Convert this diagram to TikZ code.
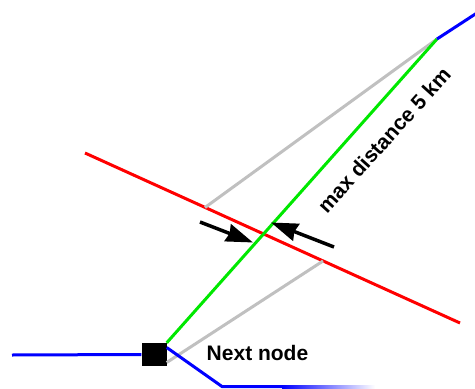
\documentclass[tikz,border=0pt]{standalone}
\usepackage{fontspec}
\setmainfont{Liberation Sans}
\usetikzlibrary{arrows.meta}
\definecolor{trackgreen}{RGB}{0,232,0}
\definecolor{linkgray}{RGB}{192,192,192}

\begin{document}
\begin{tikzpicture}[x=1pt,y=-1pt,
  route/.style={blue,line width=3pt},
  candidate/.style={trackgreen,line width=3pt},
  hint/.style={linkgray,line width=3pt},
  barrier/.style={red,line width=3pt},
  pointer/.style={line width=3.5pt,-{Stealth[length=27pt,width=18pt,inset=2pt]}},
  stop/.style={fill=black,draw=none,minimum width=25pt,minimum height=23pt,inner sep=0pt},
  caption/.style={font=\fontsize{21}{25}\selectfont\bfseries,inner sep=0pt}]
\useasboundingbox (0,0) rectangle (475,389);
\clip (0,0) rectangle (475,389);

% reference points of the routes
\coordinate (west) at (12,355);
\coordinate (far) at (437,39);
\coordinate (offtop) at (480,11);
\coordinate (bend) at (222,386.5);
\coordinate (fadeA) at (282,386.5);
\coordinate (redW) at (85,153);
\coordinate (redE) at (460,323);
\coordinate (cutU) at (205,207.5);
\coordinate (cutL) at (323,261);
\coordinate (tailL) at (200,222);
\coordinate (tipL) at (253,242.5);
\coordinate (tailR) at (334,247);
\coordinate (tipR) at (271,222.5);

% the next node
\node[stop] (nn) at (154,354.5) {};

% barrier line
\draw[barrier] (redW) -- (redE);

% grey helper lines
\draw[hint] (far) -- (cutU);
\draw[hint] ([yshift=-8pt]nn.east) -- (cutL);

% green candidate connection
\draw[candidate] (nn.north east) -- (far);

% blue route
\draw[route] (west) -- (nn.west);
\draw[route] (far) -- (offtop);
\draw[route] ([yshift=7pt]nn.east) -- (bend) -- (fadeA);
\shade[left color=blue,right color=white] (282,385) rectangle (375,388);

% arrows pointing at the crossing
\draw[pointer] (tailL) -- (tipL);
\draw[pointer] (tailR) -- (tipR);

% labels
\node[caption,rotate=48] (dist) at (384,140) {max distance 5 km};
\node[caption] (nlabel) at (257.5,353) {Next node};
\end{tikzpicture}
\end{document}
